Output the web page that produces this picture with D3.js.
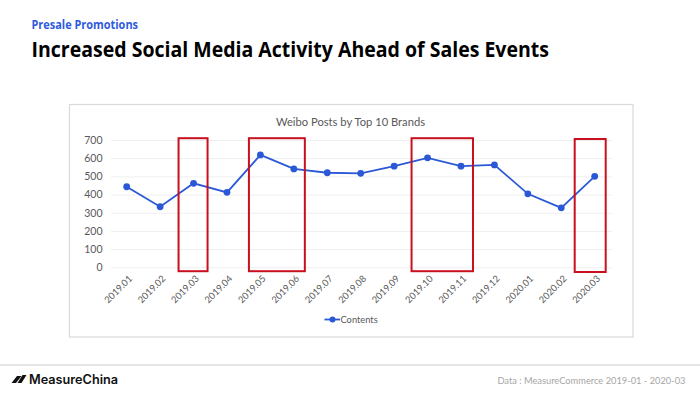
<!DOCTYPE html>
<html><head><meta charset="utf-8">
<script src="https://cdn.jsdelivr.net/npm/d3@7"></script>
<style>html,body{margin:0;padding:0;background:#fff}svg{display:block}</style>
</head><body><div id="c"></div>
<script>
const categories=["2019.01","2019.02","2019.03","2019.04","2019.05","2019.06","2019.07","2019.08","2019.09","2019.10","2019.11","2019.12","2020.01","2020.02","2020.03"];
const contents=[443,333,462,412,618,541,520,517,556,602,556,563,404,327,500];
const yTicks=[0,100,200,300,400,500,600,700];
const highlightStart=["2019.03","2019.05","2019.10","2020.03"];
const highlightEnd=["2019.03","2019.06","2019.11","2020.03"];
const highlightPadLeft=[15,11.5,16,20];
const highlightPadRight=[14,11,12,11];
const W=700,H=393;
const svg=d3.select("#c").append("svg").attr("width",W).attr("height",H);
const chartFont="Lato, 'Open Sans', sans-serif";
const x=d3.scalePoint().domain(categories).range([126.7,594.7]);
const y=d3.scaleLinear().domain([0,700]).range([267.3,140]);

svg.append("text").attr("x",31.5).attr("y",29).attr("font-family","'Open Sans'").attr("font-weight",700).attr("font-size",12).attr("textLength",106.5).attr("lengthAdjust","spacingAndGlyphs").attr("fill","#2f5bdc").text("Presale Promotions");
svg.append("text").attr("x",31.5).attr("y",57).attr("font-family","'Open Sans'").attr("font-weight",700).attr("font-size",21).attr("textLength",517.5).attr("lengthAdjust","spacingAndGlyphs").attr("fill","#000").text("Increased Social Media Activity Ahead of Sales Events");

svg.append("rect").attr("x",69.5).attr("y",104.5).attr("width",563.5).attr("height",232.5).attr("fill","#fff").attr("stroke","#d9d9d9").attr("stroke-width",1.2);
svg.append("text").attr("x",350.5).attr("y",126).attr("text-anchor","middle").attr("font-family",chartFont).attr("font-size",11.2).attr("fill","#595959").text("Weibo Posts by Top 10 Brands");

const g=svg.append("g");
const yAxis=d3.axisLeft(y).tickValues(yTicks).tickSize(-(612-111)).tickPadding(8.5);
const ya=g.append("g").attr("transform","translate(111,0)").call(yAxis);
ya.select(".domain").remove();
ya.selectAll("line").attr("stroke","#efefef").attr("stroke-width",1);
ya.selectAll("text").attr("font-family",chartFont).attr("font-size",10.5).attr("fill","#595959");

const xAxis=d3.axisBottom(x).tickSize(0).tickPadding(0);
const xa=g.append("g").attr("transform","translate(0,267.3)").call(xAxis);
xa.select(".domain").remove();
xa.selectAll("text").attr("font-family",chartFont).attr("font-size",9.3).attr("fill","#595959")
  .attr("text-anchor","end").attr("dy",0).attr("y",0)
  .attr("transform","translate(5.5,12) rotate(-45)");

g.append("path").datum(contents).attr("fill","none").attr("stroke","#2b59d6").attr("stroke-width",1.8)
  .attr("d",d3.line().x((d,i)=>x(categories[i])).y(d=>y(d)));
g.selectAll("circle.p").data(contents).join("circle").attr("class","p")
  .attr("cx",(d,i)=>x(categories[i])).attr("cy",d=>y(d)).attr("r",3.4).attr("fill","#2b59d6");

g.selectAll("rect.h").data(highlightStart).join("rect").attr("class","h")
  .attr("x",(d,i)=>x(d)-highlightPadLeft[i])
  .attr("width",(d,i)=>x(highlightEnd[i])+highlightPadRight[i]-x(d)+highlightPadLeft[i])
  .attr("y",(d,i)=>i===3?139:138.2).attr("height",133)
  .attr("fill","none").attr("stroke","#c8101e").attr("stroke-width",2);

const lg=svg.append("g");
lg.append("line").attr("x1",324.5).attr("x2",340).attr("y1",319.5).attr("y2",319.5).attr("stroke","#2b59d6").attr("stroke-width",1.8);
lg.append("circle").attr("cx",332.5).attr("cy",319.5).attr("r",3).attr("fill","#2b59d6");
lg.append("text").attr("x",340.5).attr("y",322.8).attr("font-family",chartFont).attr("font-size",9.3).attr("fill","#595959").text("Contents");

svg.append("line").attr("x1",0).attr("x2",W).attr("y1",365).attr("y2",365).attr("stroke","#dcdcdc").attr("stroke-width",1.6);
const logo=svg.append("g").attr("fill","#111");
logo.append("path").attr("d","M11.5,383 L17,376 L21.5,376 L16,383 Z");
logo.append("path").attr("d","M17.5,383 L22.5,375 L26.5,375 L21.5,383 Z");
svg.append("text").attr("x",29).attr("y",383.5).attr("font-family","Inter").attr("font-weight",600).attr("font-size",12.7).attr("fill","#111").text("MeasureChina");
svg.append("text").attr("x",685.5).attr("y",383.5).attr("text-anchor","end").attr("font-family",chartFont).attr("font-size",9.3).attr("fill","#a6a6a6").text("Data : MeasureCommerce 2019-01 - 2020-03");
</script></body></html>
